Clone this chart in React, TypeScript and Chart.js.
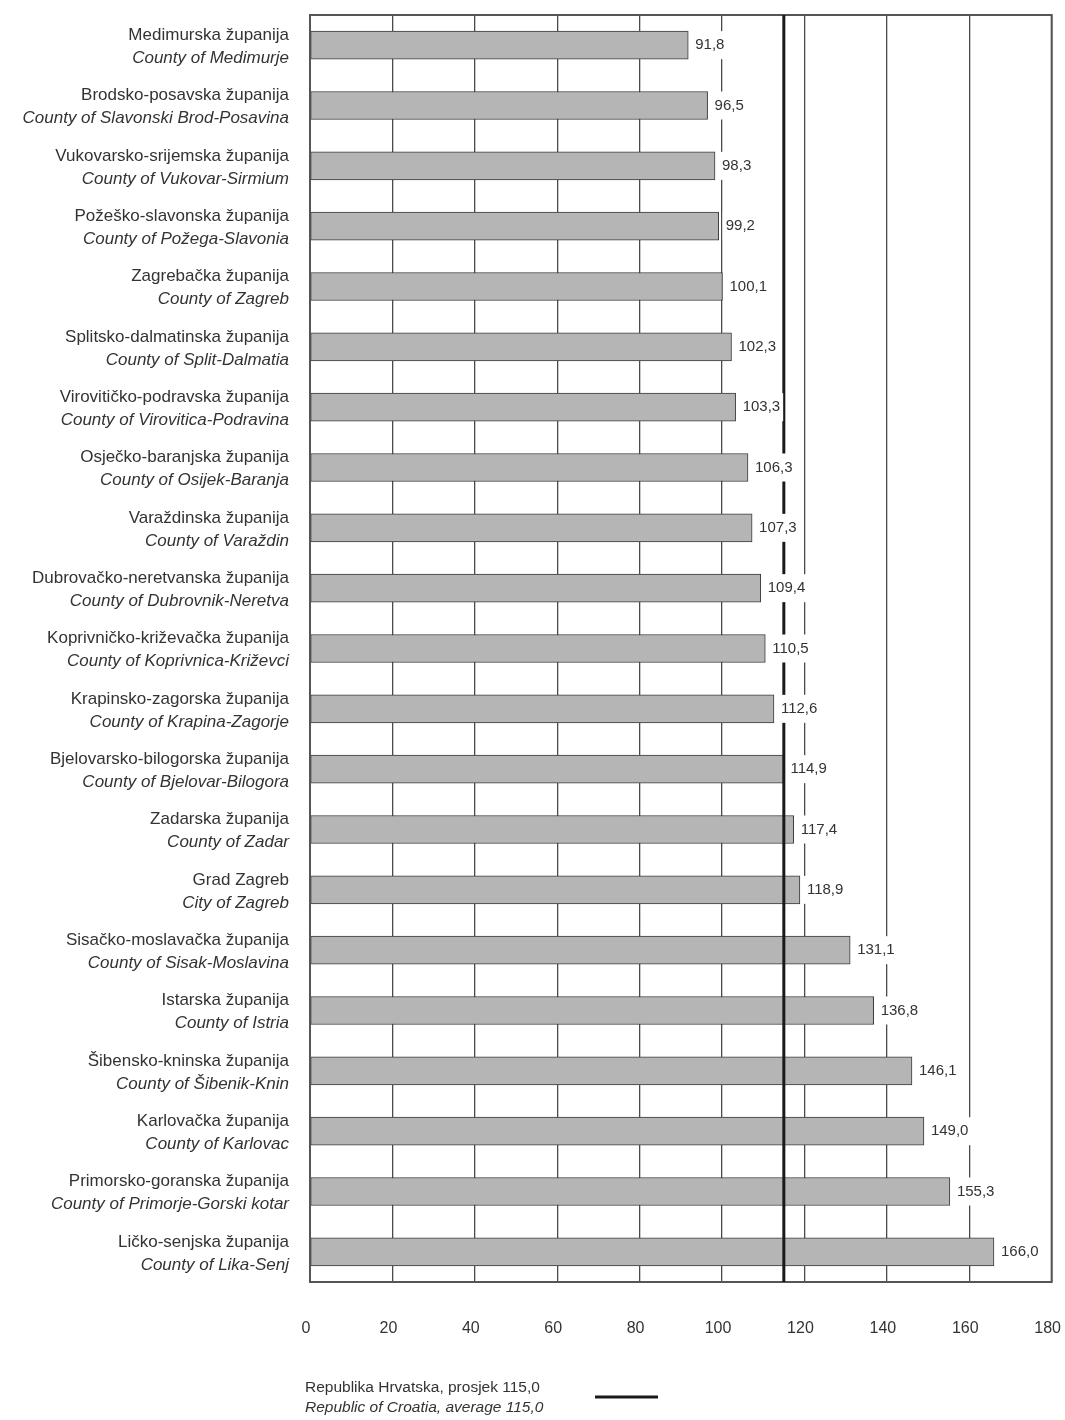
import React, { useEffect, useRef } from 'react';
import { Chart, registerables } from 'chart.js';

Chart.register(...registerables);

const categoriesHr = [
  'Medimurska županija',
  'Brodsko-posavska županija',
  'Vukovarsko-srijemska županija',
  'Požeško-slavonska županija',
  'Zagrebačka županija',
  'Splitsko-dalmatinska županija',
  'Virovitičko-podravska županija',
  'Osječko-baranjska županija',
  'Varaždinska županija',
  'Dubrovačko-neretvanska županija',
  'Koprivničko-križevačka županija',
  'Krapinsko-zagorska županija',
  'Bjelovarsko-bilogorska županija',
  'Zadarska županija',
  'Grad Zagreb',
  'Sisačko-moslavačka županija',
  'Istarska županija',
  'Šibensko-kninska županija',
  'Karlovačka županija',
  'Primorsko-goranska županija',
  'Ličko-senjska županija',
];

const categoriesEn = [
  'County of Medimurje',
  'County of Slavonski Brod-Posavina',
  'County of Vukovar-Sirmium',
  'County of Požega-Slavonia',
  'County of Zagreb',
  'County of Split-Dalmatia',
  'County of Virovitica-Podravina',
  'County of Osijek-Baranja',
  'County of Varaždin',
  'County of Dubrovnik-Neretva',
  'County of Koprivnica-Križevci',
  'County of Krapina-Zagorje',
  'County of Bjelovar-Bilogora',
  'County of Zadar',
  'City of Zagreb',
  'County of Sisak-Moslavina',
  'County of Istria',
  'County of Šibenik-Knin',
  'County of Karlovac',
  'County of Primorje-Gorski kotar',
  'County of Lika-Senj',
];

const values = [
  91.8, 96.5, 98.3, 99.2, 100.1, 102.3, 103.3, 106.3, 107.3, 109.4, 110.5,
  112.6, 114.9, 117.4, 118.9, 131.1, 136.8, 146.1, 149.0, 155.3, 166.0,
];

const averageValue = 115.0;
const xMin = 0;
const xMax = 180;
const xStep = 20;

const legendHr = 'Republika Hrvatska, prosjek 115,0';
const legendEn = 'Republic of Croatia, average 115,0';

const FONT = '"Liberation Sans", Arial, sans-serif';
const TEXT = '#333';

const fmt = (v: number) => v.toFixed(1).replace('.', ',');

const overlayPlugin = {
  id: 'overlay',
  afterDatasetsDraw(chart: any) {
    const { ctx, chartArea } = chart;
    const xs = chart.scales.x;
    const ys = chart.scales.y;
    ctx.save();

    // frame
    ctx.strokeStyle = '#555';
    ctx.lineWidth = 2;
    ctx.strokeRect(chartArea.left, chartArea.top, chartArea.right - chartArea.left, chartArea.bottom - chartArea.top);

    // average line
    const ax = xs.getPixelForValue(averageValue);
    ctx.strokeStyle = '#1a1a1a';
    ctx.lineWidth = 3;
    ctx.beginPath();
    ctx.moveTo(ax, chartArea.top);
    ctx.lineTo(ax, chartArea.bottom);
    ctx.stroke();

    // value labels
    ctx.font = `15px ${FONT}`;
    ctx.textBaseline = 'middle';
    ctx.textAlign = 'left';
    values.forEach((v, i) => {
      const x = xs.getPixelForValue(v) + 7;
      const y = ys.getPixelForValue(i);
      const t = fmt(v);
      const w = ctx.measureText(t).width;
      ctx.fillStyle = '#fff';
      ctx.fillRect(x - 3, y - 14, w + 6, 28);
      ctx.fillStyle = TEXT;
      ctx.fillText(t, x, y);
    });

    // category labels
    ctx.textAlign = 'right';
    categoriesHr.forEach((c, i) => {
      const y = ys.getPixelForValue(i);
      ctx.fillStyle = TEXT;
      ctx.font = `17px ${FONT}`;
      ctx.fillText(c, 289, y - 10);
      ctx.font = `italic 17px ${FONT}`;
      ctx.fillText(categoriesEn[i], 289, y + 13);
    });

    // legend
    ctx.textAlign = 'left';
    ctx.font = `15.5px ${FONT}`;
    ctx.fillText(legendHr, 305, 1388);
    ctx.font = `italic 15.5px ${FONT}`;
    ctx.fillText(legendEn, 305, 1408);
    ctx.strokeStyle = '#1a1a1a';
    ctx.lineWidth = 3;
    ctx.beginPath();
    ctx.moveTo(595, 1397);
    ctx.lineTo(658, 1397);
    ctx.stroke();

    ctx.restore();
  },
};

export default function App() {
  const ref = useRef<HTMLCanvasElement | null>(null);

  useEffect(() => {
    if (!ref.current) return;
    const chart = new Chart(ref.current, {
      type: 'bar',
      data: {
        labels: categoriesHr,
        datasets: [
          {
            data: values,
            backgroundColor: '#b5b5b5',
            borderColor: '#3a3a3a',
            borderWidth: 1,
            borderSkipped: false,
            barThickness: 28,
          },
        ],
      },
      options: {
        indexAxis: 'y',
        responsive: false,
        maintainAspectRatio: false,
        animation: false,
        devicePixelRatio: 1,
        layout: { padding: { top: 15, right: 13, left: 0, bottom: 0 } },
        plugins: {
          legend: { display: false },
          tooltip: { enabled: false },
        },
        scales: {
          x: {
            min: xMin,
            max: xMax,
            ticks: {
              stepSize: xStep,
              padding: 0,
              color: TEXT,
              font: { family: FONT, size: 16 },
              labelOffset: -4,
            },
            grid: {
              color: '#4a4a4a',
              lineWidth: 1.3,
              drawTicks: true,
              tickLength: 37,
              tickColor: 'rgba(0,0,0,0)',
            },
            border: { display: false },
            afterFit: (s: any) => {
              s.height = 138;
            },
          },
          y: {
            grid: { display: false },
            ticks: { display: false },
            border: { display: false },
            afterFit: (s: any) => {
              s.width = 310;
            },
          },
        },
      },
      plugins: [overlayPlugin],
    } as any);
    return () => chart.destroy();
  }, []);

  return (
    <div style={{ position: 'absolute', left: 0, top: 0, width: 1065, height: 1420, background: '#fff' }}>
      <canvas ref={ref} width={1065} height={1420} style={{ display: 'block', width: 1065, height: 1420 }} />
    </div>
  );
}
